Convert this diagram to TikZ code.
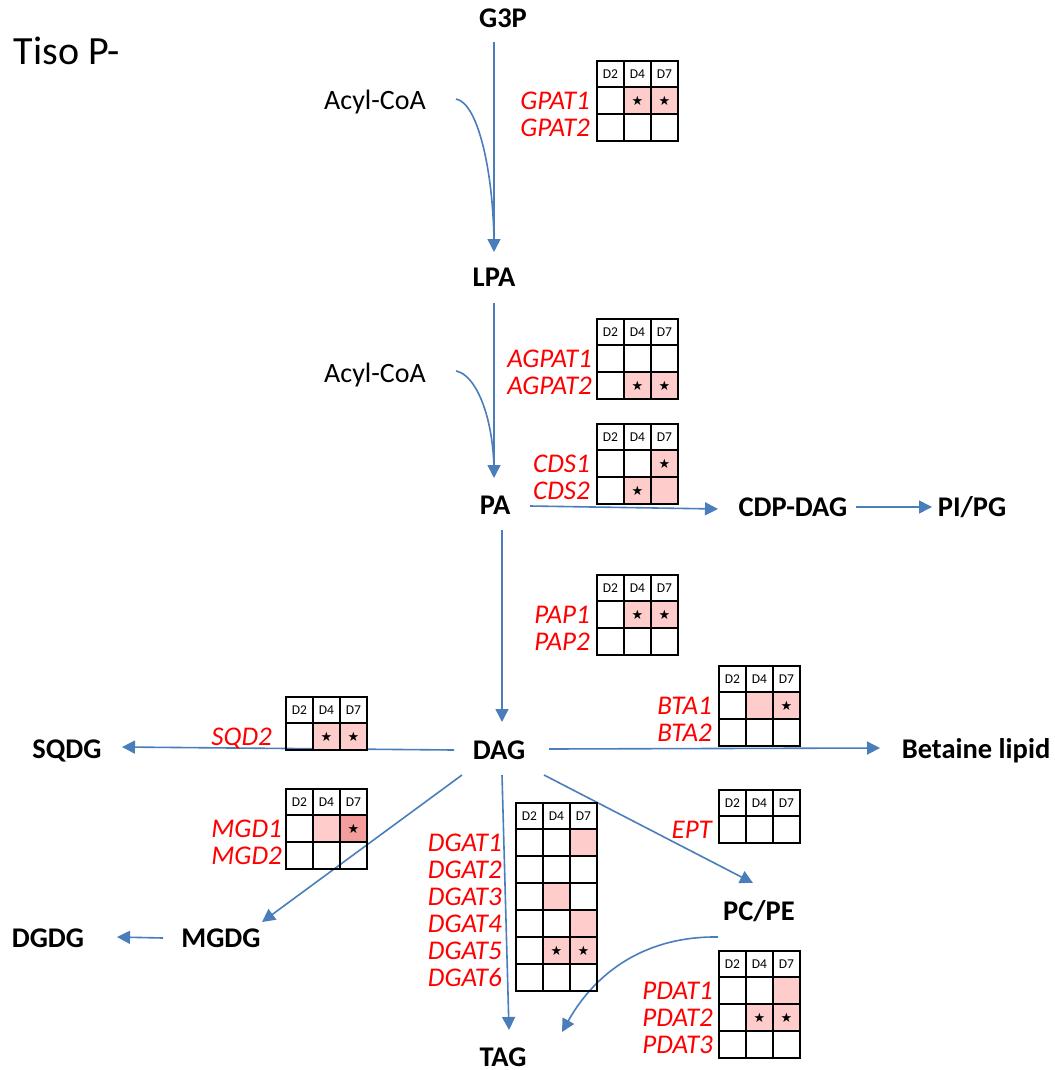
\documentclass[tikz,border=0pt]{standalone}
\usepackage{fontspec}
\setmainfont{Carlito}
\newfontfamily\symfont{DejaVu Sans}
\usetikzlibrary{arrows.meta,calc}
\definecolor{conn}{HTML}{4A7EBB}
\definecolor{hit}{HTML}{FFCCCC}
\definecolor{hitdark}{HTML}{F59D9D}
\definecolor{gene}{HTML}{FF0000}
\tikzset{
  metab/.style={font=\fontsize{28.5}{28.5}\selectfont\bfseries, inner sep=0pt, text height=18.5pt, text depth=0pt},
  plain/.style={font=\fontsize{28}{28}\selectfont, inner sep=0pt, text height=18pt, text depth=0pt},
  flow/.style={draw=conn, line width=1.6pt, -{Triangle[length=13pt,width=13pt]}},
  flowline/.style={draw=conn, line width=1.6pt},
  genelbl/.style={font=\fontsize{27}{27}\selectfont\itshape, text=gene, anchor=east, inner sep=0pt, text height=17.5pt, text depth=0pt},
  hdr/.style={font=\fontsize{13.5}{13.5}\selectfont, inner sep=0pt},
  starmark/.style={font=\symfont\fontsize{13}{13}\selectfont, inner sep=0pt},
  gridline/.style={line width=2.8pt, black}
}
% #1 name, #2 x, #3 y, #4 rows, #5 fills col/row/colour/star
\newcommand{\exprtab}[5]{%
  \foreach \cc/\rr/\fc/\st in {#5}{%
    \fill[\fc] ({#2+27*(\cc-1)},{#3+26+27*(\rr-1)}) rectangle ++(27,27);
    \ifnum\st=1
      \node[starmark] at ({#2+27*(\cc-1)+13.5},{#3+26+27*(\rr-1)+14}) {★};
    \fi
  }%
  \node[hdr] (#1-d2) at ({#2+13.5},{#3+13.5}) {D2};
  \node[hdr] (#1-d4) at ({#2+40.5},{#3+13.5}) {D4};
  \node[hdr] (#1-d7) at ({#2+67.5},{#3+13.5}) {D7};
  \draw[gridline] (#2,#3) rectangle ({#2+81},{#3+26+27*#4});
  \foreach \k in {1,2}{\draw[gridline] ({#2+27*\k},#3) -- ({#2+27*\k},{#3+26+27*#4});}
  \pgfmathtruncatemacro\lastk{#4-1}
  \foreach \k in {0,...,\lastk}{\draw[gridline] (#2,{#3+26+27*\k}) -- ({#2+81},{#3+26+27*\k});}
}
\begin{document}
\begin{tikzpicture}[x=1pt,y=-1pt]
\useasboundingbox (0,0) rectangle (1054,1070);
\fill[white] (0,0) rectangle (1054,1070);

% title
\node[font=\fontsize{40}{40}\selectfont, inner sep=0pt, text height=27pt, text depth=0pt] (title) at (67,51) {Tiso P-};

% metabolites
\node[metab] (G3P) at (503,18) {G3P};
\node[metab] (LPA) at (494,277) {LPA};
\node[metab] (PA) at (495,505) {PA};
\node[metab] (CDP) at (793,507) {CDP-DAG};
\node[metab] (PIPG) at (972,507) {PI/PG};
\node[metab] (DAG) at (499,750) {DAG};
\node[metab] (SQDG) at (67,749) {SQDG};
\node[metab] (BET) at (976,749) {Betaine lipid};
\node[metab] (MGDG) at (221,938) {MGDG};
\node[metab] (DGDG) at (48,938) {DGDG};
\node[metab] (PCPE) at (759,911) {PC/PE};
\node[metab] (TAG) at (503,1057) {TAG};
\node[plain] (acyl1) at (375,101) {Acyl-CoA};
\node[plain] (acyl2) at (375,373) {Acyl-CoA};

% connectors
\draw[flow] ($(G3P)+(-9,24)$) -- ($(LPA)+(0,-25)$);
\draw[flowline] ($(acyl1)+(81,-2)$) .. controls ($(acyl1)+(104,2)$) and ($(LPA)+(0,-100)$) .. ($(LPA)+(0,-30)$);
\draw[flow] ($(LPA)+(0,26)$) -- ($(PA)+(-1,-27)$);
\draw[flowline] ($(acyl2)+(81,-2)$) .. controls ($(acyl2)+(102,2)$) and ($(PA)+(-1,-85)$) .. ($(PA)+(-1,-32)$);
\draw[flow] ($(PA)+(35,1)$) -- ($(CDP)+(-75,2)$);
\draw[flow] ($(CDP)+(63,0)$) -- ($(PIPG)+(-40,0)$);
\draw[flow] ($(PA)+(7,25)$) -- ($(DAG)+(3,-28)$);
\draw[flow] ($(DAG)+(-45,0)$) -- ($(SQDG)+(55,-2)$);
\draw[flow] ($(DAG)+(50,-1)$) -- ($(BET)+(-96,-1)$);
\draw[flow] ($(DAG)+(-37,25)$) -- ($(MGDG)+(41,-16)$);
\draw[flow] ($(MGDG)+(-58,0)$) -- ($(DGDG)+(69,-1)$);
\draw[flow] ($(DAG)+(3,25)$) -- ($(TAG)+(6,-27)$);
\draw[flow] ($(DAG)+(45,25)$) -- ($(PCPE)+(-6,-28)$);
\draw[flow] ($(PCPE)+(-41,26)$) .. controls ($(PCPE)+(-109,25)$) and ($(TAG)+(95,-89)$) .. ($(TAG)+(59,-25)$);

% expression tables
\exprtab{gpat}{597}{61}{2}{2/1/hit/1, 3/1/hit/1}
\node[genelbl] (gpat1) at (590,100.5) {GPAT1};
\node[genelbl] (gpat2) at (590,127.5) {GPAT2};

\exprtab{agpat}{597}{319}{2}{2/2/hit/1, 3/2/hit/1}
\node[genelbl] (agpat1) at (592,358.5) {AGPAT1};
\node[genelbl] (agpat2) at (592,385.5) {AGPAT2};

\exprtab{cds}{597}{424}{2}{3/1/hit/1, 2/2/hit/1, 3/2/hit/0}
\node[genelbl] (cds1) at (590,463.5) {CDS1};
\node[genelbl] (cds2) at (590,490.5) {CDS2};

\exprtab{pap}{597}{575}{2}{2/1/hit/1, 3/1/hit/1}
\node[genelbl] (pap1) at (590,614.5) {PAP1};
\node[genelbl] (pap2) at (590,641.5) {PAP2};

\exprtab{bta}{719}{666}{2}{2/1/hit/0, 3/1/hit/1}
\node[genelbl] (bta1) at (712,705.5) {BTA1};
\node[genelbl] (bta2) at (712,732.5) {BTA2};

\exprtab{sqd}{286}{697}{1}{2/1/hit/1, 3/1/hit/1}
\node[genelbl] (sqd2) at (272,736.5) {SQD2};

\exprtab{mgd}{286}{789}{2}{2/1/hit/0, 3/1/hitdark/1}
\node[genelbl] (mgd1) at (282,828.5) {MGD1};
\node[genelbl] (mgd2) at (282,855.5) {MGD2};

\exprtab{ept}{719}{790}{1}{1/1/white/0}
\node[genelbl] (ept) at (712,829.5) {EPT};

\exprtab{dgat}{516}{803}{6}{3/1/hit/0, 2/3/hit/0, 3/4/hit/0, 2/5/hit/1, 3/5/hit/1}
\node[genelbl] (dgat1) at (502,842.5) {DGAT1};
\node[genelbl] (dgat2) at (502,869.5) {DGAT2};
\node[genelbl] (dgat3) at (502,896.5) {DGAT3};
\node[genelbl] (dgat4) at (502,923.5) {DGAT4};
\node[genelbl] (dgat5) at (502,950.5) {DGAT5};
\node[genelbl] (dgat6) at (502,977.5) {DGAT6};

\exprtab{pdat}{719}{951}{3}{3/1/hit/0, 2/2/hit/1, 3/2/hit/1}
\node[genelbl] (pdat1) at (713,990.5) {PDAT1};
\node[genelbl] (pdat2) at (713,1017.5) {PDAT2};
\node[genelbl] (pdat3) at (713,1044.5) {PDAT3};
\end{tikzpicture}
\end{document}
